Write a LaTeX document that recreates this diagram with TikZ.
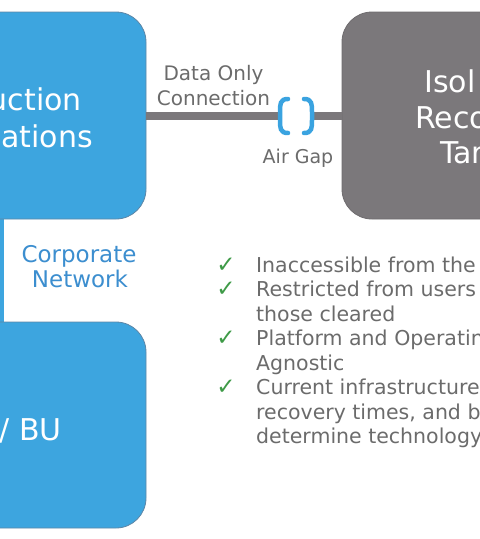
\documentclass[tikz,border=0pt]{standalone}
\usepackage{fontspec}
\setmainfont{DejaVu Sans}
\usepackage{xcolor}
\usetikzlibrary{positioning}

\definecolor{boxblue}{HTML}{3DA5DF}
\definecolor{boxedge}{HTML}{5E86A6}
\definecolor{boxgray}{HTML}{7B787B}
\definecolor{gapblue}{HTML}{3AA3E0}
\definecolor{corpblue}{HTML}{3C8ECF}
\definecolor{bodygray}{HTML}{6B6B6B}
\definecolor{checkgreen}{HTML}{3E9A47}

\begin{document}
\begin{tikzpicture}[x=1pt, y=-1pt]
    \tikzstyle{box}    = [rectangle, rounded corners=30pt, inner sep=0pt,
                          line width=0.8pt]
    \tikzstyle{big}    = [inner sep=0pt, text=white,
                          font=\fontsize{30}{36}\selectfont]
    \tikzstyle{lbl}    = [inner sep=0pt, text=bodygray,
                          font=\fontsize{20}{24}\selectfont]
    \tikzstyle{corp}   = [inner sep=0pt, text=corpblue,
                          font=\fontsize{23}{27}\selectfont]
    \tikzstyle{item}   = [inner sep=0pt, anchor=base west, text=bodygray,
                          font=\fontsize{20.5}{24.5}\selectfont]
    \tikzstyle{tick}   = [inner sep=0pt, anchor=base, text=checkgreen,
                          font=\fontsize{23}{24}\selectfont]
    \tikzstyle{link}   = [line width=8pt, color=boxgray]
    \tikzstyle{gap}    = [line width=4.5pt, line cap=round, color=gapblue]

    \useasboundingbox (0,0) rectangle (480,539);
    \clip (0,0) rectangle (480,539);

    % corporate network link, under the boxes
    \coordinate (corptop) at (0,219);
    \coordinate (corpbot) at (0,322);
    \draw[line width=8pt, color=boxblue] (corptop) -- (corpbot);

    \node (prod)   [box, fill=boxblue, draw=boxedge, minimum width=406pt,
                    minimum height=207pt] at (-57,115.5) {};
    \node (bu)     [box, fill=boxblue, draw=boxedge, minimum width=406pt,
                    minimum height=206pt] at (-57,425) {};
    \node (target) [box, fill=boxgray, draw=boxgray!90!black,
                    minimum width=458pt, minimum height=207pt] at (571,115.5) {};

    \node (prod1) [big, anchor=base east] at (82,110) {uction};
    \node (prod2) [big, anchor=base east] at (93,147) {ations};
    \node (bu1)   [big, anchor=base east] at (62,440) {/ BU};
    \node (tgt1)  [big, anchor=base west] at (424,92)  {Isol};
    \node (tgt2)  [big, anchor=base west] at (415,128) {Reco};
    \node (tgt3)  [big, anchor=base west] at (440,163) {Tar};

    % data only connection with the air gap
    \coordinate (gapl) at (280,115.5);
    \coordinate (gapr) at (312,115.5);
    \draw[link] (prod.east) -- (gapl);
    \draw[link] (gapr) -- (target.west);
    \draw[gap] (288,99) .. controls (280,99) and (280,104) .. (280,112)
               -- (280,120) .. controls (280,128) and (280,133) .. (288,133);
    \draw[gap] (304,99) .. controls (312,99) and (312,104) .. (312,112)
               -- (312,120) .. controls (312,128) and (312,133) .. (304,133);

    \node (data1) [lbl, anchor=base] at (213.5,80)  {Data Only};
    \node (data2) [lbl, anchor=base] at (213.5,105) {Connection};
    \node (air)   [lbl, anchor=base, font=\fontsize{19}{23}\selectfont]
                  at (298,163) {Air Gap};

    \node (corp1) [corp, anchor=base] at (79,262) {Corporate};
    \node (corp2) [corp, anchor=base] at (80,287) {Network};

    % requirements
    \node (c1) [tick] at (226,272)   {✓};
    \node (c2) [tick] at (226,296.5) {✓};
    \node (c3) [tick] at (226,345.5) {✓};
    \node (c4) [tick] at (226,394.5) {✓};

    \node (b1)  [item] at (256,272)   {Inaccessible from the};
    \node (b2a) [item] at (256,296.5) {Restricted from users};
    \node (b2b) [item] at (256,321)   {those cleared};
    \node (b3a) [item] at (256,345.5) {Platform and Operating};
    \node (b3b) [item] at (256,370)   {Agnostic};
    \node (b4a) [item] at (256,394.5) {Current infrastructure};
    \node (b4b) [item] at (256,419)   {recovery times, and b};
    \node (b4c) [item] at (256,443.5) {determine technology};
\end{tikzpicture}
\end{document}
